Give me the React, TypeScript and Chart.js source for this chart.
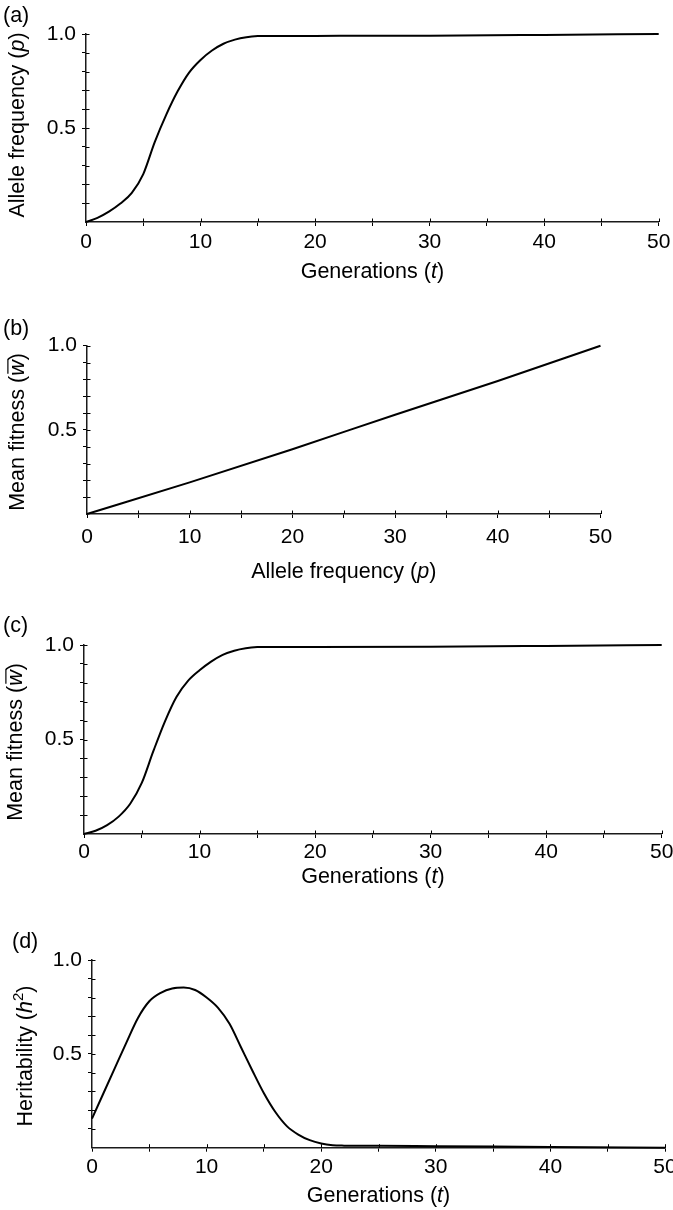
import React, { useEffect, useRef } from 'react';
import { Chart, registerables } from 'chart.js';

Chart.register(...registerables);

const FONT = "'Liberation Sans', Arial, Helvetica, sans-serif";

// (a) Allele frequency vs generations
const generationsA = [0, 1, 2, 3, 4, 5, 6, 7, 8, 9, 10, 11, 12, 13, 14, 15, 16, 20, 30, 40, 50];
const alleleFreqA = [0, 0.022, 0.055, 0.098, 0.155, 0.255, 0.425, 0.57, 0.695, 0.795, 0.862, 0.912, 0.948, 0.97, 0.983, 0.989, 0.99, 0.99, 0.991, 0.995, 1.0];

// (b) Mean fitness vs allele frequency
const alleleFreqB = [0, 10, 20, 30, 40, 50];
const meanFitnessB = [0, 0.188, 0.385, 0.59, 0.79, 1.0];

// (c) Mean fitness vs generations
const generationsC = [0, 1, 2, 3, 4, 5, 6, 7, 8, 9, 10, 11, 12, 13, 14, 15, 16, 20, 30, 40, 50];
const meanFitnessC = [0, 0.017, 0.047, 0.092, 0.16, 0.27, 0.438, 0.595, 0.725, 0.81, 0.866, 0.912, 0.948, 0.97, 0.983, 0.989, 0.99, 0.99, 0.991, 0.995, 1.0];

// (d) Heritability vs generations
const generationsD = [0, 1, 2, 3, 4, 5, 6, 7, 8, 9, 10, 11, 12, 13, 14, 15, 16, 17, 18, 19, 20, 21, 22, 25, 30, 40, 50];
const heritabilityD = [0.155, 0.29, 0.425, 0.56, 0.69, 0.78, 0.825, 0.848, 0.853, 0.84, 0.8, 0.745, 0.66, 0.535, 0.41, 0.29, 0.19, 0.115, 0.07, 0.04, 0.022, 0.013, 0.011, 0.01, 0.008, 0.004, 0.0];

const xTickValues = [0, 10, 20, 30, 40, 50];
const yTickLabels = ['0.5', '1.0'];

type Seg = { t: string; s?: 'i' | 'sup' | 'bar' };

const W = 673;

const panels = [
  {
    key: 'a', top: 0, height: 300, left: 86, right: 658.7, yTop: 34, yBottom: 222, tickPad: 3.5,
    xs: generationsA, ys: alleleFreqA,
    letter: { t: '(a)', x: 3, y: 16.5 },
    yTitle: { segs: [{ t: 'Allele frequency (' }, { t: 'p', s: 'i' }, { t: ')' }] as Seg[], cx: 18, cy: 125 },
    xTitle: { segs: [{ t: 'Generations (' }, { t: 't', s: 'i' }, { t: ')' }] as Seg[], cy: 272 },
  },
  {
    key: 'b', top: 300, height: 300, left: 87, right: 600.5, yTop: 345.7, yBottom: 514, tickPad: 6.5,
    xs: alleleFreqB, ys: meanFitnessB,
    letter: { t: '(b)', x: 3, y: 29 },
    yTitle: { segs: [{ t: 'Mean fitness (' }, { t: 'w', s: 'bar' }, { t: ')' }] as Seg[], cx: 18, cy: 132 },
    xTitle: { segs: [{ t: 'Allele frequency (' }, { t: 'p', s: 'i' }, { t: ')' }] as Seg[], cy: 272 },
  },
  {
    key: 'c', top: 600, height: 300, left: 84, right: 661.7, yTop: 645, yBottom: 834, tickPad: 1.5,
    xs: generationsC, ys: meanFitnessC,
    letter: { t: '(c)', x: 3, y: 26 },
    yTitle: { segs: [{ t: 'Mean fitness (' }, { t: 'w', s: 'bar' }, { t: ')' }] as Seg[], cx: 16, cy: 142 },
    xTitle: { segs: [{ t: 'Generations (' }, { t: 't', s: 'i' }, { t: ')' }] as Seg[], cy: 277 },
  },
  {
    key: 'd', top: 900, height: 310, left: 92, right: 665, yTop: 960, yBottom: 1147.7, tickPad: 2.5,
    xs: generationsD, ys: heritabilityD,
    letter: { t: '(d)', x: 12, y: 42 },
    yTitle: { segs: [{ t: 'Heritability (' }, { t: 'h', s: 'i' }, { t: '2', s: 'sup' }, { t: ')' }] as Seg[], cx: 26, cy: 156 },
    xTitle: { segs: [{ t: 'Generations (' }, { t: 't', s: 'i' }, { t: ')' }] as Seg[], cy: 296 },
  },
];

const TITLE_SIZE = 21.5;
const TICK_SIZE = 21;

function drawSegs(ctx: CanvasRenderingContext2D, segs: Seg[], cx: number, cy: number, size: number, rotate: boolean) {
  ctx.save();
  ctx.translate(cx, cy);
  if (rotate) ctx.rotate(-Math.PI / 2);
  const fontFor = (s: Seg) =>
    s.s === 'sup' ? `${Math.round(size * 0.7)}px ${FONT}` : s.s === 'i' || s.s === 'bar' ? `italic ${size}px ${FONT}` : `${size}px ${FONT}`;
  const widths = segs.map((s) => {
    ctx.font = fontFor(s);
    return ctx.measureText(s.t).width;
  });
  const total = widths.reduce((a, b) => a + b, 0);
  let x = -total / 2;
  ctx.textBaseline = 'middle';
  ctx.textAlign = 'left';
  ctx.fillStyle = '#000';
  segs.forEach((s, i) => {
    ctx.font = fontFor(s);
    const dy = s.s === 'sup' ? -size * 0.32 : 0;
    ctx.fillText(s.t, x, dy);
    if (s.s === 'bar') {
      ctx.strokeStyle = '#000';
      ctx.lineWidth = 1.2;
      ctx.beginPath();
      ctx.moveTo(x + 2, -size * 0.47);
      ctx.lineTo(x + widths[i] + 1.5, -size * 0.47);
      ctx.stroke();
    }
    x += widths[i];
  });
  ctx.restore();
}

const panelTextPlugin = {
  id: 'panelText',
  afterDraw(chart: any, _args: any, opts: any) {
    const ctx: CanvasRenderingContext2D = chart.ctx;
    const xs = chart.scales.x;
    const ys = chart.scales.y;
    const area = chart.chartArea;
    ctx.save();
    ctx.strokeStyle = '#000';
    ctx.lineWidth = 1;
    ctx.beginPath();
    xs.ticks.forEach((t: any) => {
      if (t.value === 0) return;
      const px = Math.round(xs.getPixelForValue(t.value)) + 0.5;
      ctx.moveTo(px, area.bottom);
      ctx.lineTo(px, area.bottom - 3.5);
    });
    ys.ticks.forEach((t: any) => {
      if (Math.abs(t.value) < 1e-6) return;
      const py = Math.round(ys.getPixelForValue(t.value)) + 0.5;
      ctx.moveTo(area.left, py);
      ctx.lineTo(area.left + 3.5, py);
    });
    ctx.stroke();
    ctx.restore();

    ctx.save();
    ctx.fillStyle = '#000';
    ctx.font = `${TITLE_SIZE}px ${FONT}`;
    ctx.textBaseline = 'middle';
    ctx.textAlign = 'left';
    ctx.fillText(opts.letter.t, opts.letter.x, opts.letter.y);
    ctx.restore();

    drawSegs(ctx, opts.yTitle.segs, opts.yTitle.cx, opts.yTitle.cy, TITLE_SIZE, true);
    drawSegs(ctx, opts.xTitle.segs, (area.left + area.right) / 2, opts.xTitle.cy, TITLE_SIZE, false);
  },
};

function Panel({ cfg }: { cfg: (typeof panels)[number] }) {
  const ref = useRef<HTMLCanvasElement>(null);
  useEffect(() => {
    const gridOpts = { display: true, drawOnChartArea: false, drawTicks: true, tickLength: 4, color: '#000', lineWidth: 1 };
    const borderOpts = { display: true, color: '#1a1a1a', width: 1.5 };
    const chart = new Chart(ref.current as HTMLCanvasElement, {
      type: 'line',
      data: {
        datasets: [
          {
            data: cfg.xs.map((x, i) => ({ x, y: cfg.ys[i] })),
            borderColor: '#000',
            borderWidth: 2,
            pointRadius: 0,
            cubicInterpolationMode: 'monotone',
            fill: false,
            clip: false as any,
          },
        ],
      },
      options: {
        responsive: false,
        animation: false,
        events: [],
        layout: { padding: { left: 0, right: W - cfg.right, top: cfg.yTop - cfg.top, bottom: 0 } },
        plugins: {
          legend: { display: false },
          tooltip: { enabled: false },
          // @ts-ignore
          panelText: cfg,
        },
        scales: {
          x: {
            type: 'linear',
            min: 0,
            max: 50,
            position: 'bottom',
            afterFit: (s: any) => {
              s.height = cfg.top + cfg.height - cfg.yBottom;
              s.paddingLeft = 0;
              s.paddingRight = 0;
            },
            grid: gridOpts,
            border: borderOpts,
            ticks: {
              stepSize: 5,
              autoSkip: false,
              maxRotation: 0,
              padding: cfg.tickPad,
              color: '#000',
              font: { family: FONT, size: TICK_SIZE },
              callback: (v: any) => (xTickValues.includes(Number(v)) ? String(v) : ''),
            },
          },
          y: {
            type: 'linear',
            min: 0,
            max: 1,
            position: 'left',
            afterFit: (s: any) => {
              s.width = cfg.left;
              s.paddingTop = 0;
              s.paddingBottom = 0;
            },
            grid: gridOpts,
            border: borderOpts,
            ticks: {
              stepSize: 0.1,
              autoSkip: false,
              padding: 6,
              color: '#000',
              font: { family: FONT, size: TICK_SIZE },
              callback: (v: any) => {
                const n = Number(v);
                if (Math.abs(n) < 1e-6) return null;
                if (Math.abs(n - 0.5) < 1e-6) return yTickLabels[0];
                if (Math.abs(n - 1) < 1e-6) return yTickLabels[1];
                return '';
              },
            },
          },
        },
      } as any,
      plugins: [panelTextPlugin],
    });
    return () => chart.destroy();
  }, []);
  return (
    <canvas
      ref={ref}
      width={W}
      height={cfg.height}
      style={{ position: 'absolute', left: 0, top: cfg.top, display: 'block' }}
    />
  );
}

export default function App() {
  return (
    <div style={{ position: 'absolute', left: 0, top: 0, width: W, height: 1210, overflow: 'hidden', background: '#fff' }}>
      {panels.map((p) => (
        <Panel key={p.key} cfg={p} />
      ))}
    </div>
  );
}
